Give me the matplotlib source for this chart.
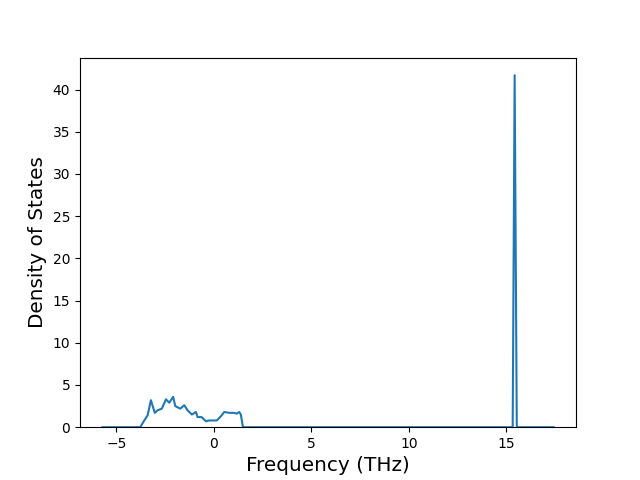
import matplotlib
matplotlib.use("Agg")
import matplotlib.pyplot as plt

freq = [-5.71, -3.78, -3.57, -3.40, -3.23, -3.03, -2.89, -2.67, -2.46, -2.29,
        -2.09, -1.98, -1.73, -1.52, -1.35, -1.13, -0.92, -0.84, -0.63, -0.41,
        -0.24, 0.15, 0.36, 0.53, 0.79, 1.04, 1.16, 1.30, 1.38, 1.49,
        15.32, 15.42, 15.53, 17.41]
dos = [0.0, 0.0, 0.8, 1.4, 3.2, 1.7, 2.0, 2.2, 3.3, 2.9,
       3.6, 2.5, 2.2, 2.6, 2.0, 1.5, 1.8, 1.2, 1.2, 0.7,
       0.8, 0.8, 1.3, 1.8, 1.7, 1.7, 1.6, 1.8, 1.5, 0.0,
       0.0, 41.7, 0.0, 0.0]

fig, ax = plt.subplots(figsize=(6.4, 4.8), dpi=100)
ax.plot(freq, dos)
ax.set_ylim(bottom=0)
ax.set_xlabel("Frequency (THz)", fontsize="x-large")
ax.set_ylabel("Density of States", fontsize="x-large")
fig.savefig("out.png")
